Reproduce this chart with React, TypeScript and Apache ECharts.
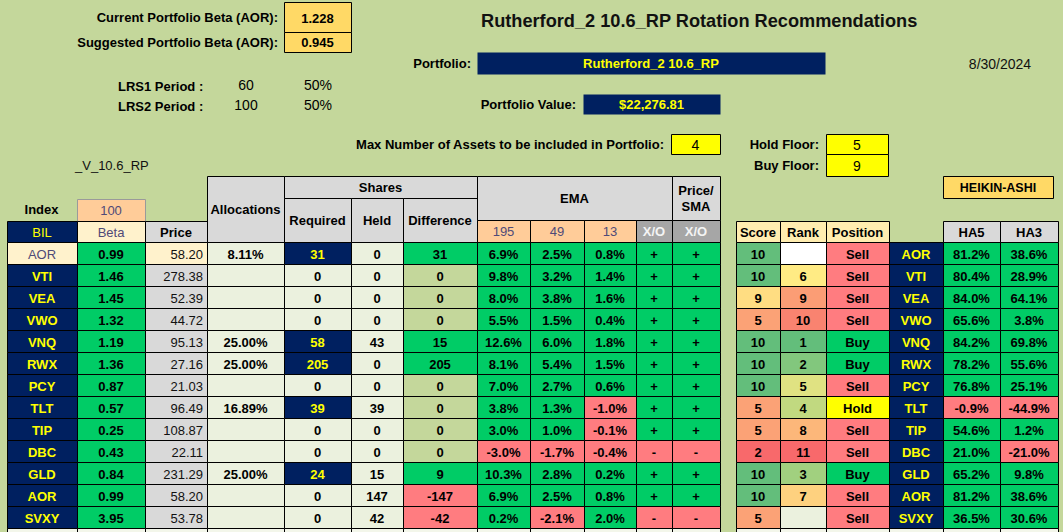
import React, { useEffect, useRef } from "react";
import * as echarts from "echarts";

// ---------- data (read from the sheet) ----------
const tickers = ["AOR", "VTI", "VEA", "VWO", "VNQ", "RWX", "PCY", "TLT", "TIP", "DBC", "GLD", "AOR", "SVXY"];
const betas = [0.99, 1.46, 1.45, 1.32, 1.19, 1.36, 0.87, 0.57, 0.25, 0.43, 0.84, 0.99, 3.95];
const prices = [58.2, 278.38, 52.39, 44.72, 95.13, 27.16, 21.03, 96.49, 108.87, 22.11, 231.29, 58.2, 53.78];
const allocations: (number | null)[] = [8.11, null, null, null, 25.0, 25.0, null, 16.89, null, null, 25.0, null, null];
const sharesRequired = [31, 0, 0, 0, 58, 205, 0, 39, 0, 0, 24, 0, 0];
const sharesHeld = [0, 0, 0, 0, 43, 0, 0, 39, 0, 0, 15, 147, 42];
const sharesDifference = [31, 0, 0, 0, 15, 205, 0, 0, 0, 0, 9, -147, -42];
const ema195 = [6.9, 9.8, 8.0, 5.5, 12.6, 8.1, 7.0, 3.8, 3.0, -3.0, 10.3, 6.9, 0.2];
const ema49 = [2.5, 3.2, 3.8, 1.5, 6.0, 5.4, 2.7, 1.3, 1.0, -1.7, 2.8, 2.5, -2.1];
const ema13 = [0.8, 1.4, 1.6, 0.4, 1.8, 1.5, 0.6, -1.0, -0.1, -0.4, 0.2, 0.8, 2.0];
const emaXO = ["+", "+", "+", "+", "+", "+", "+", "+", "+", "-", "+", "+", "-"];
const priceSmaXO = ["+", "+", "+", "+", "+", "+", "+", "+", "+", "-", "+", "+", "-"];
const scores = [10, 10, 9, 5, 10, 10, 10, 5, 5, 2, 10, 10, 5];
const ranks: (number | null)[] = [null, 6, 9, 10, 1, 2, 5, 4, 8, 11, 3, 7, null];
const positions = ["Sell", "Sell", "Sell", "Sell", "Buy", "Buy", "Sell", "Hold", "Sell", "Sell", "Buy", "Sell", "Sell"];
const ha5 = [81.2, 80.4, 84.0, 65.6, 84.2, 78.2, 76.8, -0.9, 54.6, 21.0, 65.2, 81.2, 36.5];
const ha3 = [38.6, 28.9, 64.1, 3.8, 69.8, 55.6, 25.1, -44.9, 1.2, -21.0, 9.8, 38.6, 30.6];

const currentBeta = "1.228";
const suggestedBeta = "0.945";
const portfolioName = "Rutherford_2 10.6_RP";
const portfolioValue = "$22,276.81";
const reportDate = "8/30/2024";
const maxAssets = "4";
const holdFloor = "5";
const buyFloor = "9";

// ---------- styles / layout ----------
const BG = "#C4D79B";
const NAVY = "#002060";
const YEL = "#FFFF00";
const GREEN = "#00CC66";
const PINK = "#FF7C80";
const LIGHT = "#EBF1DE";
const GRAY = "#D9D9D9";
const DGRAY = "#A6A6A6";
const PEACH = "#FFCC99";
const CREAM = "#FFF2CC";
const GOLD = "#FFD966";
const PURPLE = "#4F4A78";
const FF = '"Liberation Sans", Arial, sans-serif';
const NF = '"Liberation Sans Narrow", "Arial Narrow", "Liberation Sans", Arial, sans-serif';
const B13 = `bold 13px ${FF}`;
const R13 = `13px ${FF}`;

const COL: Record<string, [number, number]> = {
  ticker: [7, 77], beta: [77, 145], price: [145, 207], alloc: [207, 284],
  req: [284, 351], held: [351, 403], diff: [403, 477],
  e195: [477, 530], e49: [530, 584], e13: [584, 636], xo: [636, 672], psma: [672, 720],
  score: [736, 780], rank: [780, 826], pos: [826, 889], tick2: [889, 943],
  ha5: [943, 1000], ha3: [1000, 1058],
};
const TABLE_TOP = 242;
const ROW_H = 22;

const SCORE_COLORS: Record<number, string> = { 10: "#63BE7B", 9: "#FFDD82", 5: "#FBA276", 2: "#F8696B" };
function rankColor(r: number | null): string {
  if (r == null) return "#FFFFFF";
  const g = [99, 190, 123], y = [255, 235, 132], rd = [248, 105, 107];
  const lo = 1, mid = 6, hi = 11;
  let a: number[], b: number[], t: number;
  if (r <= mid) { a = g; b = y; t = (r - lo) / (mid - lo); } else { a = y; b = rd; t = (r - mid) / (hi - mid); }
  const c = a.map((v, i) => Math.round(v + (b[i] - v) * t));
  return `rgb(${c[0]},${c[1]},${c[2]})`;
}
const POS_COLORS: Record<string, string> = { Sell: PINK, Buy: GREEN, Hold: YEL };
const pct = (v: number, d = 1) => `${v.toFixed(d)}%`;
const sgn = (v: number) => (v >= 0 ? GREEN : PINK);

type Cell = { x0: number; x1: number; row: number; text: string; fill: string; color: string; font: string; align: string };

function buildCells(): Cell[] {
  const cells: Cell[] = [];
  const add = (k: string, row: number, text: string, fill: string, color = "#000", font = B13, align = "center") =>
    cells.push({ x0: COL[k][0], x1: COL[k][1], row, text, fill, color, font, align });
  tickers.forEach((t, i) => {
    if (i === 0) add("ticker", i, t, CREAM, PURPLE, R13);
    else add("ticker", i, t, NAVY, YEL);
    add("beta", i, betas[i].toFixed(2), GREEN);
    add("price", i, prices[i].toFixed(2), i === 0 ? CREAM : GRAY, "#111", R13, "right");
    add("alloc", i, allocations[i] == null ? "" : pct(allocations[i] as number, 2), LIGHT);
    if (sharesRequired[i] > 0) add("req", i, String(sharesRequired[i]), NAVY, YEL);
    else add("req", i, String(sharesRequired[i]), LIGHT);
    add("held", i, String(sharesHeld[i]), LIGHT);
    const d = sharesDifference[i];
    add("diff", i, String(d), d > 0 ? GREEN : d < 0 ? PINK : BG);
    add("e195", i, pct(ema195[i]), sgn(ema195[i]));
    add("e49", i, pct(ema49[i]), sgn(ema49[i]));
    add("e13", i, pct(ema13[i]), sgn(ema13[i]));
    add("xo", i, emaXO[i], emaXO[i] === "+" ? GREEN : PINK);
    add("psma", i, priceSmaXO[i], priceSmaXO[i] === "+" ? GREEN : PINK);
    add("score", i, String(scores[i]), SCORE_COLORS[scores[i]] || "#FFFFFF");
    add("rank", i, ranks[i] == null ? "" : String(ranks[i]), ranks[i] == null ? (i === 0 ? "#FFFFFF" : LIGHT) : rankColor(ranks[i]));
    add("pos", i, positions[i], POS_COLORS[positions[i]]);
    add("tick2", i, t, NAVY, YEL);
    add("ha5", i, pct(ha5[i]), sgn(ha5[i]));
    add("ha3", i, pct(ha3[i]), sgn(ha3[i]));
  });
  return cells;
}

function box(x0: number, y0: number, x1: number, y1: number, fill: string, stroke: string | null = "#000"): any {
  return {
    type: "rect",
    shape: { x: x0 + 0.5, y: y0 + 0.5, width: x1 - x0, height: y1 - y0 },
    style: { fill, stroke: stroke || "none", lineWidth: stroke ? 1 : 0 },
    z: 1,
  };
}
function txt(x: number, y: number, text: string, font = B13, fill = "#000", align = "center"): any {
  return {
    type: "text",
    x, y,
    style: { text, font, fill, align, verticalAlign: "middle", textAlign: align, textVerticalAlign: "middle" },
    z: 2,
  };
}

function headerGraphics(): any[] {
  const g: any[] = [];
  // top block
  g.push(txt(278, 17.5, "Current Portfolio Beta (AOR):", B13, "#000", "right"));
  g.push(txt(278, 42.5, "Suggested Portfolio Beta (AOR):", B13, "#000", "right"));
  g.push(box(284, 2, 351, 32, GOLD), txt(317.5, 18, currentBeta));
  g.push(box(284, 32, 351, 52, GOLD), txt(317.5, 42.5, suggestedBeta));
  g.push(txt(481, 21, `${portfolioName} Rotation Recommendations`, `bold 18.2px ${FF}`, "#111", "left"));
  g.push(txt(471, 63.5, "Portfolio:", B13, "#000", "right"));
  g.push(box(477, 52, 825, 74, NAVY, null), txt(651, 63.5, portfolioName, B13, YEL));
  g.push(txt(1000, 63.5, reportDate, `14px ${NF}`, "#111"));
  g.push(txt(118, 86.5, "LRS1 Period :", B13, "#000", "left"));
  g.push(txt(118, 106.5, "LRS2 Period :", B13, "#000", "left"));
  g.push(txt(246, 85, "60", `14px ${NF}`), txt(246, 105, "100", `14px ${NF}`));
  g.push(txt(318, 85, "50%", `14px ${NF}`), txt(318, 105, "50%", `14px ${NF}`));
  g.push(txt(576, 104, "Portfolio Value:", B13, "#000", "right"));
  g.push(box(583, 94, 720, 114, NAVY, null), txt(651.5, 104, portfolioValue, B13, YEL));
  g.push(txt(664, 144.5, "Max Number of Assets to be included in Portfolio:", B13, "#000", "right"));
  g.push(box(671, 134, 720, 154, YEL), txt(695.5, 144.5, maxAssets, `14px ${NF}`));
  g.push(txt(819, 144.5, "Hold Floor:", B13, "#000", "right"));
  g.push(box(826, 134, 888, 154, YEL), txt(857, 144.5, holdFloor, `14px ${NF}`));
  g.push(txt(819, 165.5, "Buy Floor:", B13, "#000", "right"));
  g.push(box(826, 154, 888, 176, YEL), txt(857, 165.5, buyFloor, `14px ${NF}`));
  g.push(txt(75, 165.5, "_V_10.6_RP", R13, "#111", "left"));
  g.push(box(943, 176, 1053, 198, GOLD), txt(998, 187.5, "HEIKIN-ASHI", `bold 12.5px ${NF}`));

  // table headers
  g.push(txt(41.5, 209.5, "Index", B13));
  g.push(box(77, 199, 145, 221, PEACH, "#9A9A9A"), txt(111, 210.5, "100", R13, PURPLE));
  g.push(box(7, 221, 77, 242, NAVY), txt(42, 232, "BIL", R13, YEL));
  g.push(box(77, 221, 145, 242, CREAM), txt(111, 232, "Beta", R13, PURPLE));
  g.push(box(145, 221, 207, 242, GRAY), txt(176, 232, "Price", B13));
  g.push(box(207, 176, 284, 242, GRAY), txt(245.5, 209.5, "Allocations", B13));
  g.push(box(284, 176, 477, 198, GRAY), txt(380.5, 187.5, "Shares", B13));
  g.push(box(284, 198, 351, 242, GRAY), txt(317.5, 220.5, "Required", B13));
  g.push(box(351, 198, 403, 242, GRAY), txt(377, 220.5, "Held", B13));
  g.push(box(403, 198, 477, 242, GRAY), txt(440, 220.5, "Difference", B13));
  g.push(box(477, 176, 672, 220, GRAY), txt(574.5, 198.5, "EMA", B13));
  g.push(box(672, 176, 720, 220, GRAY), txt(696, 190, "Price/", B13), txt(696, 206.5, "SMA", B13));
  g.push(box(477, 220, 530, 242, PEACH), txt(503.5, 231.5, "195", R13, PURPLE));
  g.push(box(530, 220, 584, 242, PEACH), txt(557, 231.5, "49", R13, PURPLE));
  g.push(box(584, 220, 636, 242, PEACH), txt(610, 231.5, "13", R13, PURPLE));
  g.push(box(636, 220, 672, 242, DGRAY), txt(654, 231.5, "X/O", B13, "#F4F4F4"));
  g.push(box(672, 220, 720, 242, DGRAY), txt(696, 231.5, "X/O", B13, "#F4F4F4"));
  g.push(box(736, 221, 780, 242, "#FFEDB0"), txt(758, 232, "Score", B13));
  g.push(box(780, 221, 826, 242, "#FFEDB0"), txt(803, 232, "Rank", B13));
  g.push(box(826, 221, 889, 242, "#FFEDB0"), txt(857.5, 232, "Position", B13));
  g.push(box(943, 221, 1000, 242, GRAY), txt(971.5, 232, "HA5", B13));
  g.push(box(1000, 221, 1058, 242, GRAY), txt(1029, 232, "HA3", B13));

  // partially visible next row at the bottom edge
  const bottom = TABLE_TOP + ROW_H * tickers.length;
  Object.keys(COL).forEach((k) => {
    g.push(box(COL[k][0], bottom, COL[k][1], bottom + 12, "#F3F6EA"));
  });
  return g;
}

export default function App() {
  const ref = useRef<HTMLDivElement>(null);
  useEffect(() => {
    if (!ref.current) return;
    const chart = echarts.init(ref.current, undefined, { renderer: "svg" });
    const cells = buildCells();
    const renderItem = (params: any, api: any) => {
      const c = cells[params.dataIndex];
      const p0 = api.coord([api.value(0), api.value(1)]);
      const p1 = api.coord([api.value(2), api.value(1) + 1]);
      const x0 = Math.round(p0[0]), y0 = Math.round(p0[1]);
      const x1 = Math.round(p1[0]), y1 = Math.round(p1[1]);
      const tx = c.align === "right" ? x1 - 4 : (x0 + x1) / 2;
      return {
        type: "group",
        children: [
          {
            type: "rect",
            shape: { x: x0 + 0.5, y: y0 + 0.5, width: x1 - x0, height: y1 - y0 },
            style: { fill: c.fill, stroke: "#000", lineWidth: 1 },
          },
          {
            type: "text",
            x: tx,
            y: (y0 + y1) / 2 + 1,
            style: {
              text: c.text, font: c.font, fill: c.color,
              align: c.align, verticalAlign: "middle", textAlign: c.align, textVerticalAlign: "middle",
            },
          },
        ],
      };
    };
    chart.setOption({
      animation: false,
      backgroundColor: BG,
      grid: { left: 0, right: 0, top: TABLE_TOP, bottom: 0 },
      xAxis: { type: "value", min: 0, max: 1063, show: false },
      yAxis: { type: "value", min: 0, max: (532 - TABLE_TOP) / ROW_H, inverse: true, show: false },
      series: [
        {
          type: "custom",
          renderItem,
          clip: false,
          silent: true,
          z: 3,
          data: cells.map((c) => [c.x0, c.row, c.x1]),
        },
      ],
      graphic: { elements: headerGraphics() },
    });
    return () => chart.dispose();
  }, []);
  return (
    <div
      ref={ref}
      style={{ position: "absolute", left: 0, top: 0, width: 1063, height: 532, background: BG }}
    />
  );
}
